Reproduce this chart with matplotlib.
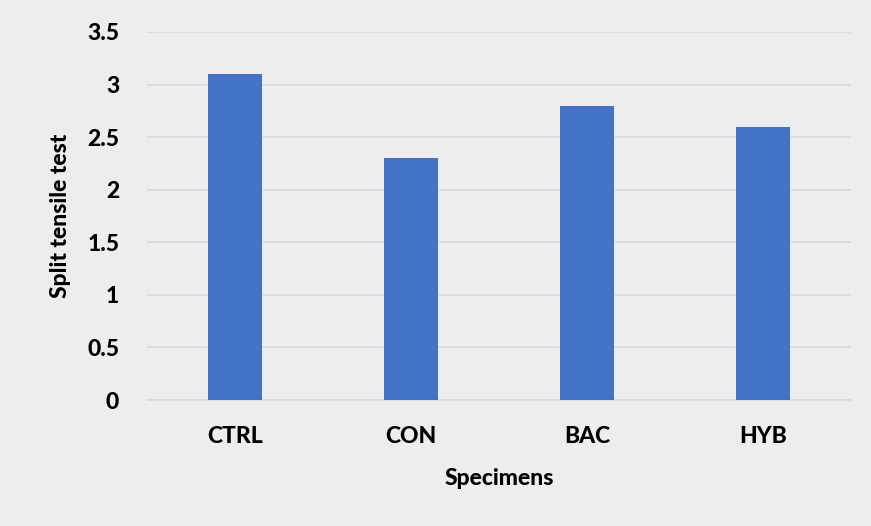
import matplotlib
matplotlib.use("Agg")
from matplotlib import pyplot as plt

specimens = ["CTRL", "CON", "BAC", "HYB"]
split_tensile = [3.1, 2.3, 2.8, 2.6]
yticks = [0, 0.5, 1, 1.5, 2, 2.5, 3, 3.5]
ytick_labels = ["0", "0.5", "1", "1.5", "2", "2.5", "3", "3.5"]

plt.rcParams['font.family'] = ['Lato', 'DejaVu Sans']
bg = '#EDEDED'
fs = 16.5

fig = plt.figure(figsize=(8.71, 5.26), dpi=100, facecolor=bg)
ax = fig.add_axes([0.1688, 0.2395, 0.8082, 0.6997])
ax.set_facecolor(bg)

x = range(len(specimens))
ax.bar(x, split_tensile, width=0.31, color='#4472C4', zorder=3)

ax.set_xlim(-0.5, len(specimens) - 0.5)
ax.set_ylim(0, 3.5)
ax.set_yticks(yticks)
ax.set_yticklabels(ytick_labels)
ax.set_xticks(list(x))
ax.set_xticklabels(specimens)
ax.grid(axis='y', color='#D9D9D9', linewidth=1.2, zorder=0)
ax.tick_params(length=0, labelsize=fs, pad=20)
ax.tick_params(axis='x', pad=19)
for lbl in ax.get_xticklabels() + ax.get_yticklabels():
    lbl.set_fontweight('black')

for side in ['top', 'right', 'left']:
    ax.spines[side].set_visible(False)
ax.spines['bottom'].set_color('#D9D9D9')
ax.spines['bottom'].set_linewidth(1.2)

ax.set_xlabel('Specimens', fontsize=fs, fontweight='black', labelpad=15)
ax.set_ylabel('Split tensile test', fontsize=fs, fontweight='black', labelpad=12)

fig.savefig('out.png', dpi=100, facecolor=bg)
